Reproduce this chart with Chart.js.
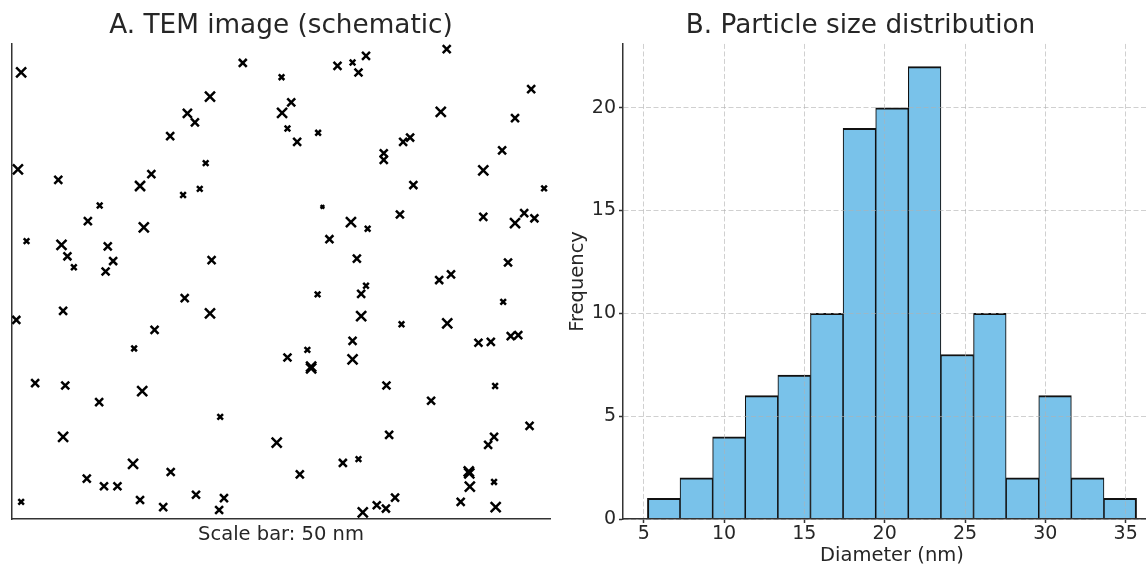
<!DOCTYPE html>
<html>
<head>
<meta charset="utf-8">
<script src="https://cdn.jsdelivr.net/npm/chart.js@4.4.0/dist/chart.umd.min.js"></script>
<style>
  html, body { margin: 0; padding: 0; background: #fff; overflow: hidden; width: 1146px; height: 568px; }
  #tem { position: absolute; left: 0; top: 0; }
  #hist { position: absolute; left: 560px; top: 0; }
</style>
</head>
<body>
<canvas id="tem" width="562" height="568"></canvas>
<canvas id="hist" width="664" height="568"></canvas>
<script>
// ---- Panel A: particle positions (0-100 field) and diameters (nm) ----
const temX = [
  1.7, 32.6, 29.4, 1.1, 8.6, 25.9, 23.8, 31.8, 16.3, 14.1, 24.5, 2.7, 9.2, 10.3, 11.5, 17.8, 18.8, 17.4,
  42.9, 50.1, 60.5, 63.3, 65.8, 64.4, 36.8, 34.0, 51.9, 50.2, 51.2, 53.0, 56.9, 36.0, 34.9, 57.7, 63.0, 66.1, 59.0, 37.1, 64.1,
  80.8, 96.5, 79.7, 93.5, 74.0, 72.7, 69.1, 69.1, 91.1, 87.6, 74.6, 98.9, 72.1, 87.6, 93.5, 95.2, 97.1, 92.2, 79.4, 81.6,
  0.8, 9.5, 32.1, 26.5, 22.7, 4.3, 9.9, 24.2, 16.2, 9.5, 22.5, 29.5, 13.9, 17.1, 19.6, 1.7, 23.8, 28.1,
  36.8, 56.8, 65.8, 64.9, 64.9, 63.3, 63.3, 51.2, 54.9, 55.6, 55.6, 38.7, 49.2, 61.5, 64.4, 53.5, 34.2, 39.4, 38.5, 65.2,
  91.3, 72.4, 80.9, 86.7, 89.0, 92.7, 94.1, 69.6, 77.9, 89.8, 96.2, 70.1, 89.6, 88.5, 84.9, 85.0, 85.1, 89.6, 83.4, 89.9, 71.2, 67.8, 69.5
];
const temY = [
  94.0, 85.4, 80.6, 73.6, 71.4, 72.6, 70.1, 68.2, 66.0, 62.7, 61.4, 58.5, 57.7, 55.3, 53.0, 57.4, 54.3, 52.1,
  96.0, 93.0, 95.4, 96.1, 97.5, 94.0, 88.9, 83.5, 87.7, 85.5, 82.2, 79.4, 81.3, 74.9, 69.5, 65.7, 62.5, 61.1, 58.9, 54.5, 54.8,
  98.9, 90.5, 85.7, 84.4, 80.3, 79.4, 77.0, 75.6, 77.6, 73.4, 70.3, 69.6, 64.1, 63.6, 62.3, 64.4, 63.3, 54.0, 50.3, 51.5,
  41.9, 43.8, 46.5, 39.8, 35.9, 28.6, 28.1, 26.9, 24.6, 17.3, 11.6, 9.9, 8.5, 6.9, 6.9, 3.6, 4.0, 2.5,
  43.3, 47.3, 49.1, 47.4, 42.7, 37.5, 33.6, 34.0, 35.6, 32.1, 31.7, 21.5, 16.1, 11.8, 12.6, 9.4, 5.1, 4.4, 1.9, 1.4,
  45.7, 41.0, 41.2, 37.1, 37.3, 38.5, 38.7, 28.1, 24.9, 28.0, 19.6, 17.7, 17.3, 15.6, 10.0, 9.6, 6.8, 7.8, 3.6, 2.5, 4.5, 2.9, 2.2
];
const particleDiam = [
  32, 26, 20, 32, 20, 20, 32, 10, 10, 20, 32, 10, 32, 20, 10, 20, 20, 20,
  20, 10, 20, 10, 20, 20, 32, 20, 20, 32, 10, 20, 10, 10, 10, 4, 32, 10, 20, 20, 20,
  20, 20, 32, 20, 20, 20, 20, 20, 20, 32, 20, 10, 20, 20, 32, 20, 20, 20, 20, 20,
  20, 20, 20, 20, 10, 20, 20, 32, 20, 32, 32, 20, 20, 20, 20, 10, 20, 20,
  32, 10, 10, 20, 32, 20, 32, 20, 10, 32, 32, 10, 32, 20, 10, 20, 20, 20, 20, 32,
  10, 10, 32, 20, 20, 20, 20, 20, 20, 10, 20, 20, 20, 20, 32, 32, 32, 10, 20, 32, 20, 20, 20
];

// ---- Panel B: histogram ----
const binEdges = [5.23, 7.26, 9.29, 11.32, 13.35, 15.38, 17.41, 19.44, 21.47, 23.50, 25.53, 27.56, 29.59, 31.62, 33.65, 35.68];
const counts = [1, 2, 4, 6, 7, 10, 19, 20, 22, 8, 10, 2, 6, 2, 1];
const xTicks = [5, 10, 15, 20, 25, 30, 35];
const yTicks = [0, 5, 10, 15, 20];

Chart.defaults.font.family = "'DejaVu Sans', sans-serif";
Chart.defaults.color = "#262626";

const textColor = "#262626";
const spineColor = "#333333";
const gridColor = "rgba(176,176,176,0.6)";
const tickFont = { size: 19 };
const labelFont = { size: 19.5 };

// Left: schematic TEM image
new Chart(document.getElementById("tem"), {
  type: "scatter",
  data: {
    datasets: [{
      data: temX.map((x, i) => ({ x: x, y: temY[i] })),
      pointStyle: "crossRot",
      pointRadius: (ctx) => 1.25 * Math.sqrt(particleDiam[ctx.dataIndex] || 20),
      pointBorderColor: "#000",
      pointBackgroundColor: "#000",
      pointBorderWidth: 2.5,
      clip: 0,
    }],
  },
  options: {
    responsive: false,
    animation: false,
    events: [],
    layout: { padding: { left: 12, right: 12, top: 0, bottom: 0 } },
    plugins: {
      legend: { display: false },
      tooltip: { enabled: false },
      title: {
        display: true,
        text: "A. TEM image (schematic)",
        color: textColor,
        font: { size: 26.3, weight: "normal" },
        padding: { top: 10, bottom: 2.4 },
      },
    },
    scales: {
      x: {
        type: "linear",
        min: 0,
        max: 100,
        ticks: { display: false },
        grid: { display: false, drawTicks: false },
        border: { display: true, color: spineColor, width: 1.5 },
        title: {
          display: true,
          text: "Scale bar: 50 nm",
          color: textColor,
          font: labelFont,
          padding: { top: 4, bottom: 21 },
        },
        afterFit: (s) => { s.height = 49; },
      },
      y: {
        type: "linear",
        min: 0,
        max: 100,
        ticks: { display: false },
        grid: { display: false, drawTicks: false },
        border: { display: true, color: spineColor, width: 1.5 },
        afterFit: (s) => { s.width = 0; },
      },
    },
  },
});

// Right: particle size distribution
const lastBin = counts.length - 1;
new Chart(document.getElementById("hist"), {
  type: "bar",
  data: {
    datasets: [{
      data: counts.map((c, i) => ({ x: (binEdges[i] + binEdges[i + 1]) / 2, y: c })),
      backgroundColor: "#79C2EA",
      borderColor: "#111111",
      borderWidth: (ctx) => ({
        top: 2,
        bottom: 0,
        left: ctx.dataIndex === 0 ? 2 : 1.1,
        right: ctx.dataIndex === lastBin ? 2 : 1.1,
      }),
      borderSkipped: false,
      barPercentage: 1,
      categoryPercentage: 1,
    }],
  },
  options: {
    responsive: false,
    animation: false,
    events: [],
    layout: { padding: { left: 0, right: 63, top: 0, bottom: 0 } },
    plugins: {
      legend: { display: false },
      tooltip: { enabled: false },
      title: {
        display: true,
        text: "B. Particle size distribution",
        color: textColor,
        font: { size: 26.3, weight: "normal" },
        padding: { top: 10, bottom: 2.4 },
      },
    },
    scales: {
      x: {
        type: "linear",
        min: 3.71,
        max: 37.20,
        offset: false,
        afterBuildTicks: (s) => { s.ticks = xTicks.map((v) => ({ value: v })); },
        ticks: { color: textColor, font: tickFont, padding: 0, maxRotation: 0, autoSkip: false },
        grid: {
          offset: false,
          color: gridColor,
          lineWidth: 1,
          tickLength: 4,
          tickColor: spineColor,
          tickWidth: 1.5,
          tickBorderDash: [],
          z: 1,
        },
        border: { display: true, color: spineColor, width: 1.5, dash: [5, 2.5], z: 2 },
        title: {
          display: true,
          text: "Diameter (nm)",
          color: textColor,
          font: labelFont,
          padding: { top: 0, bottom: 0 },
        },
        afterFit: (s) => { s.height = 49; },
      },
      y: {
        type: "linear",
        min: 0,
        max: 23.1,
        afterBuildTicks: (s) => { s.ticks = yTicks.map((v) => ({ value: v })); },
        ticks: { color: textColor, font: tickFont, padding: 3 },
        grid: {
          color: gridColor,
          lineWidth: 1,
          tickLength: 4,
          tickColor: spineColor,
          tickWidth: 1.5,
          tickBorderDash: [],
          z: 1,
        },
        border: { display: true, color: spineColor, width: 1.5, dash: [5, 2.5], z: 2 },
        title: {
          display: true,
          text: "Frequency",
          color: textColor,
          font: labelFont,
          padding: { top: 6.5, bottom: 0 },
        },
        afterFit: (s) => { s.width = 63; },
      },
    },
  },
});
</script>
</body>
</html>
